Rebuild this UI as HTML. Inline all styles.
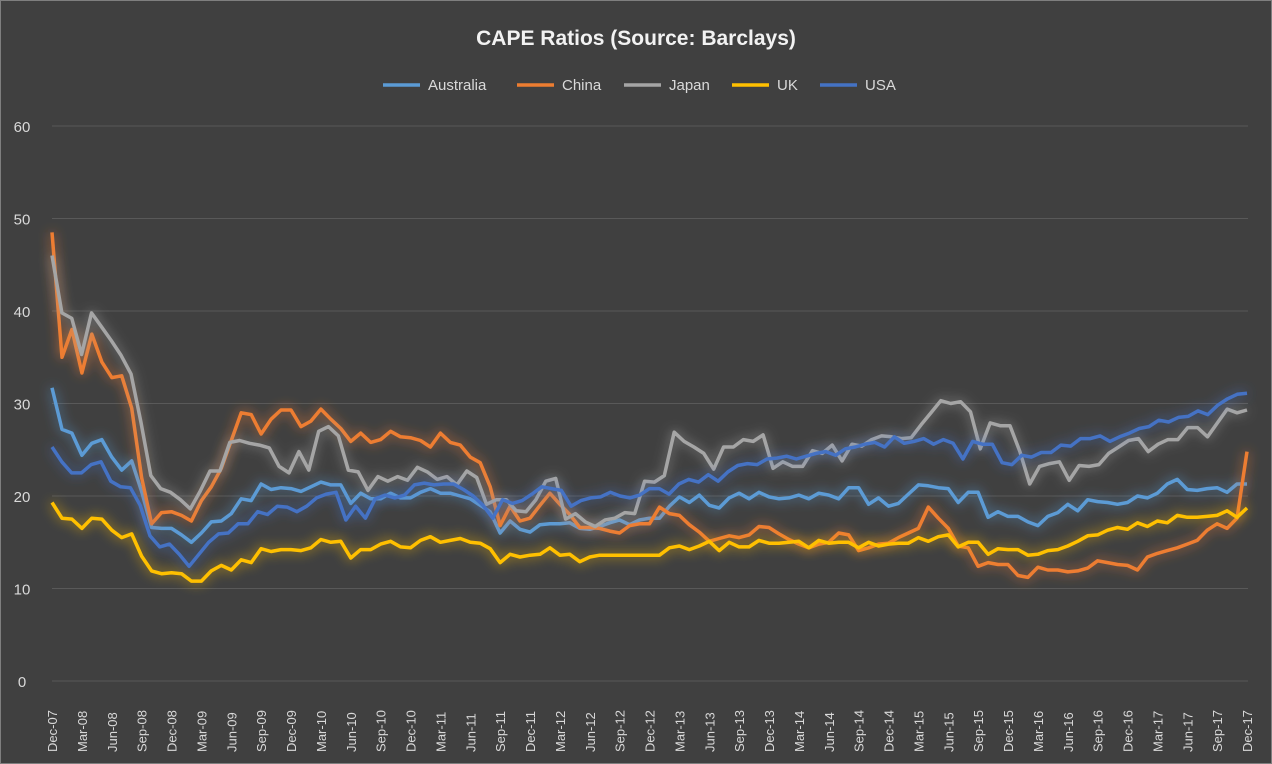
<!DOCTYPE html>
<html><head><meta charset="utf-8"><style>
html,body{margin:0;padding:0;background:#404040;}
svg{display:block;font-family:"Liberation Sans",sans-serif;}
</style></head><body>
<svg id="c" width="1272" height="764" viewBox="0 0 1272 764" xmlns="http://www.w3.org/2000/svg">
<defs>
<filter id="g" x="-5%" y="-25%" width="110%" height="150%">
<feGaussianBlur in="SourceGraphic" stdDeviation="6" result="b"/>
<feComponentTransfer in="b" result="b2"><feFuncA type="linear" slope="0.85"/></feComponentTransfer>
<feMerge><feMergeNode in="b2"/><feMergeNode in="SourceGraphic"/></feMerge>
</filter>
</defs>
<rect x="0" y="0" width="1272" height="764" fill="#404040"/>
<rect x="0.5" y="0.5" width="1271" height="763" fill="none" stroke="#7f7f7f" stroke-width="1"/>
<text x="636" y="45" text-anchor="middle" font-size="21" font-weight="bold" fill="#f2f2f2">CAPE Ratios (Source: Barclays)</text>
<g id="grid"></g>
<g id="legend" font-size="15" fill="#d9d9d9"></g>
<g id="series"></g>
<g id="xl" font-size="13" fill="#d9d9d9"></g>
</svg>
<script>
const NS="http://www.w3.org/2000/svg";
function el(t,a,p,txt){const e=document.createElementNS(NS,t);for(const k in a)e.setAttribute(k,a[k]);if(txt!==undefined)e.textContent=txt;p.appendChild(e);return e;}
const X0=52,X1=1247,Y0=681,S=9.25;
const grid=document.getElementById('grid');
for(let v=0;v<=60;v+=10){const y=Y0-v*S;
 if(v>0)el('line',{x1:X0,x2:1248,y1:y,y2:y,stroke:'#595959','stroke-width':1},grid);
 el('text',{x:22,y:y+6,'text-anchor':'middle','font-size':15,fill:'#d9d9d9'},grid,String(v));}
el('line',{x1:X0,x2:1248,y1:Y0,y2:Y0,stroke:'#595959','stroke-width':1},grid);
const data={
Australia:[31.7,27.2,26.8,24.4,25.7,26.1,24.2,22.8,23.8,20.5,16.6,16.5,16.5,15.8,15.0,16,17.2,17.3,18.1,19.7,19.5,21.3,20.7,20.9,20.8,20.5,21,21.5,21.2,21.2,19.2,20.3,19.7,19.7,20.3,19.8,19.8,20.4,20.8,20.3,20.3,20,19.7,19,18.3,16.0,17.3,16.4,16.1,16.9,17.0,17.0,17.1,16.5,16.4,16.7,17.1,17.4,16.9,17.4,17.6,17.6,18.9,19.9,19.3,20.1,19.0,18.7,19.8,20.3,19.7,20.4,19.9,19.7,19.8,20.1,19.7,20.3,20.1,19.7,20.9,20.9,19.1,19.8,18.9,19.2,20.2,21.2,21.1,20.9,20.8,19.3,20.4,20.4,17.7,18.3,17.8,17.8,17.2,16.8,17.8,18.2,19.1,18.4,19.6,19.4,19.3,19.1,19.3,20.0,19.8,20.3,21.3,21.8,20.7,20.6,20.8,20.9,20.4,21.3,21.3],
China:[48.5,35,38,33.3,37.5,34.5,32.8,33,29.5,22,17,18.2,18.3,17.9,17.3,19.5,21,23,26,29,28.8,26.7,28.3,29.3,29.3,27.5,28.1,29.4,28.3,27.3,25.9,26.8,25.8,26.1,27,26.4,26.3,26,25.3,26.8,25.8,25.5,24.2,23.6,21,16.8,18.9,17.3,17.6,19,20.3,19.1,18,16.6,16.6,16.5,16.2,16,16.8,17.0,17.0,18.8,18.1,17.9,16.9,16.1,15.1,15.4,15.7,15.5,15.8,16.7,16.6,15.9,15.3,14.8,14.4,14.8,15,16,15.8,14.1,14.4,14.8,14.9,15.5,16.0,16.5,18.8,17.6,16.5,14.6,14.4,12.4,12.8,12.6,12.6,11.4,11.2,12.3,12.0,12.0,11.8,11.9,12.2,13.0,12.8,12.6,12.5,12.0,13.4,13.8,14.1,14.4,14.8,15.2,16.3,17.0,16.5,17.6,24.8],
Japan:[46,39.8,39.2,35.3,39.8,38.3,36.8,35.2,33.2,28,22.2,20.8,20.4,19.6,18.6,20.5,22.7,22.7,25.8,26.0,25.7,25.5,25.2,23.2,22.5,24.8,22.8,27,27.5,26.5,22.8,22.6,20.6,22.1,21.6,22.1,21.7,23.1,22.6,21.8,22.1,21.2,22.7,22.0,19.1,19.6,19.6,18.4,18.3,19.6,21.6,21.9,17.5,18.1,17.2,16.7,17.4,17.6,18.2,18.1,21.6,21.5,22.2,26.9,25.9,25.3,24.6,22.9,25.3,25.3,26.1,25.9,26.6,23.0,23.7,23.2,23.2,24.9,24.6,25.5,23.8,25.6,25.4,26.1,26.5,26.4,26.2,26.3,27.7,29.0,30.3,30.0,30.2,29.1,25.1,27.9,27.6,27.6,24.8,21.3,23.2,23.5,23.7,21.7,23.3,23.2,23.4,24.6,25.3,26.0,26.2,24.8,25.6,26.1,26.1,27.4,27.4,26.4,27.9,29.4,29.0,29.3],
UK:[19.3,17.6,17.5,16.5,17.6,17.5,16.3,15.5,15.9,13.5,11.9,11.6,11.7,11.6,10.8,10.8,11.9,12.5,12.0,13.1,12.8,14.3,14.0,14.2,14.2,14.1,14.4,15.3,15.0,15.1,13.3,14.2,14.2,14.8,15.1,14.5,14.4,15.2,15.6,15.0,15.2,15.4,15.0,14.9,14.3,12.8,13.7,13.4,13.6,13.7,14.4,13.6,13.7,12.9,13.4,13.6,13.6,13.6,13.6,13.6,13.6,13.6,14.4,14.6,14.2,14.6,15.1,14.1,15.0,14.5,14.5,15.2,14.9,14.9,15.0,15.1,14.4,15.2,14.9,15.0,15.0,14.4,15.0,14.6,14.8,14.9,14.9,15.5,15.1,15.6,15.8,14.5,15.0,15.0,13.7,14.3,14.2,14.2,13.6,13.7,14.1,14.2,14.6,15.1,15.7,15.8,16.3,16.6,16.4,17.1,16.7,17.3,17.1,17.9,17.7,17.7,17.8,17.9,18.4,17.7,18.7],
USA:[25.3,23.7,22.5,22.5,23.4,23.7,21.6,21.0,20.9,19.0,15.7,14.5,14.8,13.7,12.4,13.7,15.0,15.9,16.0,17.0,17.0,18.3,18.0,18.9,18.8,18.3,18.9,19.8,20.2,20.4,17.4,18.9,17.6,19.7,20.1,19.8,20.1,21.2,21.4,21.2,21.3,21.3,20.7,20.0,19.0,17.6,19.6,19.2,19.5,20.2,21.0,20.8,20.6,18.9,19.5,19.8,19.9,20.4,20.0,19.8,20.1,20.8,20.8,20.2,21.3,21.8,21.5,22.3,21.6,22.6,23.3,23.5,23.4,24.0,24.1,24.3,24.0,24.3,24.6,24.8,24.4,25.1,25.3,25.6,25.8,25.3,26.4,25.7,25.9,26.2,25.6,26.1,25.7,24.0,25.9,25.6,25.6,23.6,23.4,24.4,24.2,24.7,24.7,25.5,25.4,26.2,26.2,26.5,25.9,26.4,26.8,27.3,27.5,28.2,28.0,28.5,28.6,29.2,28.8,29.8,30.5,31.0,31.1]
};
const col={Australia:'#5B9BD5',China:'#ED7D31',Japan:'#A5A5A5',UK:'#FFC000',USA:'#4472C4'};
const ser=document.getElementById('series');
['Australia','China','Japan','UK','USA'].forEach(k=>{const d=data[k],n=d.length;
 const pts=d.map((v,i)=>(X0+i*(X1-X0)/(n-1)).toFixed(1)+','+(Y0-v*S).toFixed(1)).join(' ');
 el('polyline',{points:pts,fill:'none',stroke:col[k],'stroke-width':3.5,'stroke-linejoin':'round',filter:'url(#g)'},ser);});
const lg=document.getElementById('legend');
[['Australia',383],['China',517],['Japan',624],['UK',732],['USA',820]].forEach(([k,x])=>{
 el('line',{x1:x,x2:x+37,y1:85,y2:85,stroke:col[k],'stroke-width':3.5},lg);
 el('text',{x:x+45,y:90},lg,k);});
const xl=document.getElementById('xl');
const mon=['Dec','Mar','Jun','Sep'];
for(let j=0;j<=40;j++){const i=j*3;const x=X0+i*(X1-X0)/120;
 const yr=7+Math.ceil(j/4);const m=mon[j%4];const lab=m+'-'+String(j%4==0?7+j/4:yr).padStart(2,'0');
 el('text',{x:0,y:0,transform:`translate(${x+5},752) rotate(-90)`},xl,lab);}
</script>
</body></html>
